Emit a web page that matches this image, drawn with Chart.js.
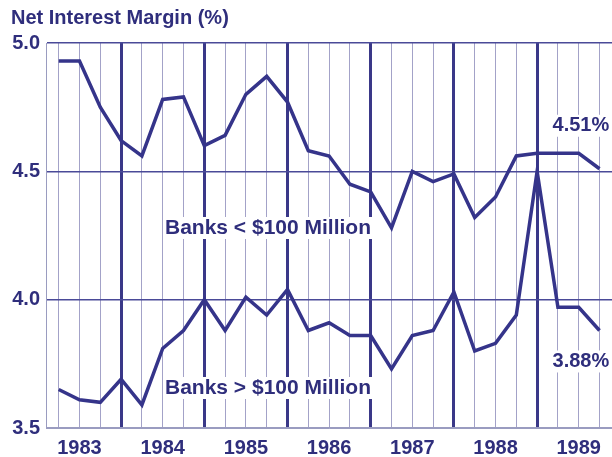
<!DOCTYPE html>
<html>
<head>
<meta charset="utf-8">
<script src="https://cdn.jsdelivr.net/npm/chart.js@4/dist/chart.umd.min.js"></script>
<style>
  html, body { margin: 0; padding: 0; background: #fff; }
  canvas { display: block; }
</style>
</head>
<body>
<canvas id="nim-chart" width="612" height="457"></canvas>
<script>
// quarterly, 1983 Q1 .. 1989 Q3
const quarters = ['83Q1','83Q2','83Q3','83Q4','84Q1','84Q2','84Q3','84Q4','85Q1','85Q2','85Q3','85Q4',
                  '86Q1','86Q2','86Q3','86Q4','87Q1','87Q2','87Q3','87Q4','88Q1','88Q2','88Q3','88Q4',
                  '89Q1','89Q2','89Q3'];
const yearLabels = ['1983', '1984', '1985', '1986', '1987', '1988', '1989'];
const smallBanks = [4.93, 4.93, 4.75, 4.62, 4.56, 4.78, 4.79, 4.60, 4.64, 4.80, 4.87, 4.77,
                    4.58, 4.56, 4.45, 4.42, 4.28, 4.50, 4.46, 4.49, 4.32, 4.40, 4.56, 4.57,
                    4.57, 4.57, 4.51];
const largeBanks = [3.65, 3.61, 3.60, 3.69, 3.59, 3.81, 3.88, 4.00, 3.88, 4.01, 3.94, 4.04,
                    3.88, 3.91, 3.86, 3.86, 3.73, 3.86, 3.88, 4.03, 3.80, 3.83, 3.94, 4.50,
                    3.97, 3.97, 3.88];
const yTicks = [3.5, 4.0, 4.5, 5.0];

const NAVY = '#2f2e7c';
const FAMILY = '"Liberation Sans", Arial, sans-serif';

function toPoints(values) {
    return values.map((v, i) => ({ x: i, y: v }));
}

// title and the in-chart labels (white boxes behind the text)
const textPlugin = {
    id: 'texts',
    afterDatasetsDraw(chart) {
        const ctx = chart.ctx;
        const xs = chart.scales.x;
        const ys = chart.scales.y;
        ctx.save();
        ctx.textBaseline = 'middle';
        ctx.textAlign = 'left';

        function boxed(text, x, y) {
            const w = ctx.measureText(text).width;
            ctx.fillStyle = '#fff';
            ctx.fillRect(x - 1, y - 11, w + 2, 22);
            ctx.fillStyle = NAVY;
            ctx.fillText(text, x, y);
        }

        ctx.font = 'bold 21px ' + FAMILY;
        boxed('Banks < $100 Million', 165, 228);
        boxed('Banks > $100 Million', 165, 388);

        ctx.font = 'bold 20px ' + FAMILY;
        const last = smallBanks.length - 1;
        boxed(smallBanks[last].toFixed(2) + '%', xs.getPixelForValue(last) - 47, ys.getPixelForValue(smallBanks[last]) - 43);
        boxed(largeBanks[last].toFixed(2) + '%', xs.getPixelForValue(last) - 47, ys.getPixelForValue(largeBanks[last]) + 31);

        ctx.fillStyle = NAVY;
        ctx.fillText('Net Interest Margin (%)', 11, 18);
        ctx.restore();
    }
};

function createChart() {
    const ctx = document.getElementById('nim-chart').getContext('2d');

    new Chart(ctx, {
        type: 'line',
        data: {
            labels: quarters,
            datasets: [
                { label: 'Banks < $100 Million', data: toPoints(smallBanks) },
                { label: 'Banks > $100 Million', data: toPoints(largeBanks) }
            ]
        },
        options: {
            responsive: false,
            animation: false,
            layout: { padding: { top: 43, right: 0, left: 0, bottom: 0 } },
            elements: {
                line: { borderColor: '#35348a', borderWidth: 3.5, tension: 0 },
                point: { radius: 0 }
            },
            plugins: {
                legend: { display: false },
                tooltip: { enabled: false }
            },
            scales: {
                x: {
                    type: 'linear',
                    min: -0.61,
                    max: 26.6,
                    afterBuildTicks: (axis) => {
                        axis.ticks = quarters.map((q, i) => ({ value: i }));
                    },
                    afterFit: (scale) => { scale.height = 29; },
                    border: { display: true, color: '#9a9cc0', width: 1 },
                    grid: {
                        drawTicks: false,
                        color: (c) => (c.tick && c.tick.value % 4 === 3) ? '#3a3888' : '#a3a2c8',
                        lineWidth: (c) => (c.tick && c.tick.value % 4 === 3) ? 3 : 1
                    },
                    ticks: {
                        autoSkip: false,
                        maxRotation: 0,
                        padding: 8,
                        color: NAVY,
                        font: { family: FAMILY, size: 20, weight: 'bold' },
                        callback: (value) => value % 4 === 1 ? yearLabels[(value - 1) / 4] : ''
                    }
                },
                y: {
                    min: 3.5,
                    max: 5.0,
                    afterBuildTicks: (axis) => {
                        axis.ticks = yTicks.map(v => ({ value: v }));
                    },
                    afterFit: (scale) => { scale.width = 46; },
                    border: { display: true, color: '#9a9cc0', width: 1 },
                    grid: {
                        drawTicks: false,
                        color: (c) => (c.tick && c.tick.value === 3.5) ? '#9a9cc0' : '#4a4a98',
                        lineWidth: 1.5
                    },
                    ticks: {
                        padding: 6,
                        color: NAVY,
                        font: { family: FAMILY, size: 20, weight: 'bold' },
                        callback: (value) => value.toFixed(1)
                    }
                }
            }
        },
        plugins: [textPlugin]
    });
}

document.addEventListener('DOMContentLoaded', createChart);
</script>
</body>
</html>
